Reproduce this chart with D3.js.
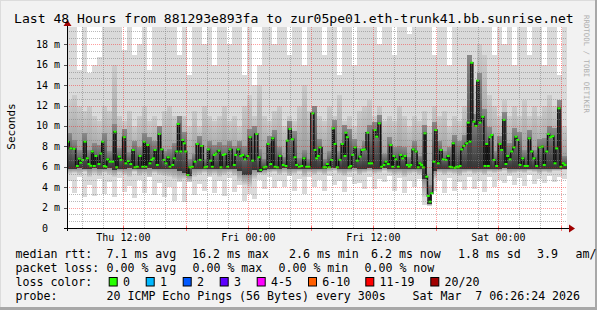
<!DOCTYPE html>
<html><head><meta charset="utf-8">
<script src="https://cdn.jsdelivr.net/npm/d3@7"></script>
<style>
body{margin:0;background:#f2f2f2;}
svg text{font-family:"DejaVu Sans Mono",monospace;white-space:pre;}
</style>
</head><body>
<svg id="chart" width="597" height="310"></svg>
<script>
// ---------- DATA ----------
const titleText = "Last 48 Hours from 881293e893fa to zur05pe01.eth-trunk41.bb.sunrise.net";
const yTickValues = [0,2,4,6,8,10,12,14,16,18];
const xLabelFormat = "%a %H:%M";
// median rtt samples: hours since window start, value in ms
const medianHours = [0.07,0.36,0.67,0.99,1.18,1.32,1.51,1.73,1.95,2.11,2.28,2.43,2.62,2.78,3.07,3.24,3.43,3.58,3.74,3.91,4.13,4.39,4.61,4.77,5.02,5.18,5.50,5.66,5.88,6.12,6.36,6.53,6.75,7.01,7.27,7.42,7.58,7.75,7.97,8.13,8.28,8.45,8.67,8.86,9.09,9.31,9.50,9.72,9.89,10.15,10.30,10.53,10.68,10.92,11.11,11.26,11.40,
11.59,11.81,12.03,12.29,12.51,12.77,12.93,13.25,13.41,13.56,13.80,13.95,14.14,14.30,14.59,14.78,15.00,15.17,15.43,15.65,16.06,16.20,16.44,16.68,16.87,17.09,17.35,17.57,17.83,18.21,18.43,18.60,18.91,19.10,19.32,19.56,19.75,19.97,20.19,20.45,20.76,21.02,21.15,21.41,21.63,21.89,22.05,22.30,22.53,22.75,23.01,23.23,23.59,23.81,23.97,24.12,24.29,24.67,24.84,24.99,25.18,25.41,25.56,25.73,25.95,26.21,26.43,26.69,26.78,26.91,27.10,27.24,27.43,27.65,27.87,28.13,28.35,28.54,28.87,29.02,
29.25,29.57,29.73,29.98,30.21,30.43,30.62,30.84,31.08,31.27,31.39,31.58,31.80,32.04,32.23,32.45,32.67,32.86,33.00,33.24,33.50,33.72,33.89,34.05,34.20,34.37,34.53,34.68,34.85,35.01,35.23,35.40,35.64,35.90,36.12,36.38,36.60,36.77,36.93,37.08,37.25,37.41,37.56,37.73,37.89,38.11,38.37,38.52,38.69,38.85,39.07,39.26,39.43,39.65,39.91,40.13,40.29,40.44,40.61,40.77,40.99,41.25,41.57,41.73,41.95,42.14,42.31,42.53,42.69,42.91,43.10,43.27,43.49,43.75,43.97,44.19,44.38,44.61,44.83,45.09,45.41,45.63,45.82,46.05,46.21,46.44,46.63,46.85,47.01,47.23,47.42,47.64,47.81];
const medianMs = [8.46,7.8,7.75,6.08,6.8,6.4,6.67,8.46,6.83,6.27,6.1,7.5,6.08,7.06,6.27,7.3,8.46,6.08,6.0,6.73,6.5,6.5,9.44,5.95,7.0,6.67,8.9,6.34,6.57,6.27,7.65,5.95,6.0,7.06,6.0,8.46,6.0,8.14,6.34,6.67,6.83,7.65,6.18,9.22,7.7,6.67,6.34,6.93,6.0,6.18,6.83,7.5,10.2,7.5,8.63,8.3,7.5,
5.2,5.95,6.0,6.5,8.24,6.67,8.04,5.95,6.0,7.7,6.6,6.0,7.16,7.3,7.58,5.95,7.16,7.25,6.0,7.7,6.18,7.16,7.7,7.06,7.16,6.73,7.06,8.9,6.6,9.22,6.93,5.69,5.95,6.0,8.24,6.27,8.79,6.0,5.95,7.06,6.18,6.08,8.56,9.7,8.7,6.93,6.18,6.0,6.08,6.83,6.0,6.0,11.24,7.65,6.83,7.06,7.9,5.95,5.95,6.27,5.95,6.67,9.77,8.24,5.95,6.67,8.24,7.06,9.34,8.9,5.95,6.08,7.16,7.9,6.6,7.0,7.65,7.7,9.34,6.34,
6.34,9.6,8.95,10.26,6.0,6.18,6.5,6.27,8.14,6.0,7.06,6.73,6.0,7.16,6.83,7.06,6.18,6.0,6.18,7.7,7.5,5.95,6.34,6.18,5.95,9.28,5.03,3.14,2.58,3.4,6.5,9.6,6.34,7.65,6.73,6.67,7.06,6.0,5.95,8.3,5.9,6.0,5.95,6.08,7.7,8.04,8.3,10.33,8.46,16.2,10.42,10.0,14.44,10.33,10.9,6.08,8.24,6.08,8.9,9.12,6.67,6.08,8.24,7.65,10.6,6.27,7.06,6.73,7.5,7.9,8.95,8.63,6.18,6.83,6.08,6.08,8.79,7.5,6.83,6.08,7.9,7.98,6.18,7.5,9.22,8.9,9.0,6.34,7.8,11.73,6.0,6.34,6.18];
// smoke (ping distribution) per consolidated step of 28.8 minutes
const smokeStepMinutes = 28.8;
const smokeMax = [20,20,15.5,20,15.2,16,16.8,20,20,20, 20,17.4,20,17,18,20,15.5,20,20,20, 20,20,17,20,15,20,20,18,20,16, 20,20,18,20,20,15,20,14,16,20, 20,18,20,20,17,20,20,16,20,20, 20,17,20,20,15,20,20,16,20,20, 20,20,18,20,20,17,20,20,19,20, 20,20,20,17,20,20,16,20,20,20, 20,20,20,20,20,17,20,18,20,16, 20,20,17,20,20,16,20,20,15,20];
const smokeHigh = [12.5,13,12,11.5,12,11,10.5,12,11.5,16, 11,10.5,11.5,10,11,12,10.5,11,10,11.5, 12,11,10.5,11,10,11.5,10,12,11,10.5, 11,12,10.5,11,10,12,13,11,14,11, 10.5,11.5,12,10,11,10.5,12,14,11.5,10, 11,10.5,12,11,13,10.5,11,10,11.5,12, 12.5,11,12,10.5,11,10.5,12,11,10,11, 10.5,11.5,10,12,11,11.5,10,11,10.5,12, 12,14,18,17,13,12,11,12.5,11,12, 11,12.5,11,12,11,12,13,12,11,10];
const smokeDark = [9.3,8.6,7.6,9.3,7.6,8.3,8.1,9.3,7.5,10.2, 7.8,9.7,7.4,8.5,7.9,9.3,8.9,8.5,10,7.5, 7.7,8.3,11,9.4,6.8,7.3,9,6.8,8.5,8.1, 8.4,8.1,8.5,8,8.5,8,9.7,10,7.7,6.8, 9,9.6,7.9,7,10.5,9.5,6.9,7.6,6.8,12, 8.7,6.8,7.5,10.6,7.5,10.1,9.7,8.7,7.8,8.5, 10.1,10.4,11.1,7.3,8.9,7.9,8,7.9,7,8.5, 7.1,10.1,4.2,10.4,8.5,7.5,7.9,9.1,8.5,9.1, 17,11.2,15.2,11.7,9.9,7.5,9,11.4,8.3,9.8, 9.4,7.6,9.6,7.6,8.7,8.8,10,9.8,12.5,7.1];
const smokeBase = [5.8,5.8,5.9,5.8,5.8,5.9,5.8,5.8,5.9,5.7, 5.8,5.8,5.9,5.8,5.8,5.8,5.9,5.8,5.8,5.8, 5.8,5.8,5.6,5.4,5.1,5.8,5.8,5.8,5.8,5.8, 5.8,5.8,5.8,5.8,5.6,5.2,5.2,5.7,5.5,5.7, 5.8,5.8,5.8,5.9,5.8,5.8,5.8,5.8,5.8,5.8, 5.8,5.8,5.9,5.9,5.8,5.8,5.8,5.9,5.8,5.8, 5.9,5.8,5.8,5.9,5.8,5.8,5.8,5.8,5.8,5.8, 5.8,4.8,2.4,5.6,5.8,5.8,5.8,5.8,5.8,5.8, 5.8,5.8,5.8,5.8,5.8,5.8,5.8,5.9,5.8,5.8, 5.8,5.8,5.8,5.8,5.8,5.8,5.8,5.8,5.8,5.8];
const smokeLow = [5.3,5.4,5.2,5.5,5.0,5.3,5.1,5.4,5.2,5.0, 5.4,5.2,5.0,5.5,5.1,5.3,5.0,5.4,5.2,5.1, 5.0,4.8,4.6,4.8,4.5,5.0,5.2,5.4,5.1,5.3, 5.0,5.2,5.4,5.1,4.6,4.2,4.0,4.8,5.3,5.2, 5.4,5.5,5.2,5.4,5.1,5.3,5.5,5.0,5.4,5.2, 5.4,5.2,5.5,5.6,5.3,5.1,5.4,5.5,5.2,5.4, 5.5,5.3,5.4,5.6,5.4,5.2,5.3,5.0,5.3,5.4, 5.2,3.0,2.2,4.8,5.4,5.2,5.4,5.3,5.1,5.4, 5.5,5.3,5.4,5.2,5.5,5.4,5.5,5.6,5.3,5.4, 5.5,5.4,5.6,5.5,5.3,5.5,5.4,5.6,5.6,5.7];
const smokeMin = [4.6,3.4,5.0,3.0,4.2,3.1,4.8,3.3,4.5,3.0, 4.9,3.5,4.1,2.9,4.7,3.4,5.0,3.2,4.4,3.0, 4.0,2.6,4.5,2.5,4.8,3.2,4.3,3.6,5.0,3.4, 4.6,3.1,4.9,3.5,4.2,2.6,3.3,2.8,4.7,3.8, 5.0,3.9,4.6,4.0,5.1,3.6,4.8,3.3,5.0,4.0, 4.7,3.6,5.1,4.2,4.6,3.5,5.0,4.3,4.4,3.8, 5.0,3.8,4.8,4.5,5.1,3.6,4.9,3.4,4.6,4.0, 4.8,2.3,2.2,3.6,4.7,3.4,4.9,3.6,4.5,3.7, 5.0,3.8,4.6,3.5,5.0,4.0,4.7,4.4,5.1,4.2, 4.9,4.1,5.2,4.3,4.8,4.4,5.1,4.5,5.0,4.8];
// legend
const medianStatValues = [7.1,16.2,2.6,6.2,1.8];
const medianStatNames = ["avg","max","min","now","sd"];
const lossStatValues = [0,0,0,0];
const lossStatNames = ["avg","max","min","now"];
const amasValue = 3.9;
const lossLabels = ["0","1","2","3","4-5","6-10","11-19","20/20"];
const lossColors = ["#26ff00","#00b8ff","#0059ff","#5e00ff","#ff00ff","#ff5e00","#ff0000","#a10000"];
const probeText = "20 ICMP Echo Pings (56 Bytes) every 300s";
const stampText = "Sat Mar  7 06:26:24 2026";

// ---------- DRAW ----------
const svg = d3.select("#chart");
const W = 597, H = 310;
const pL = 67, pR = 567, pT = 27, pB = 228;
const start = new Date(2026, 2, 5, 6, 35, 0);
const end = new Date(+start + 48 * 3600e3);
const x = d3.scaleTime().domain([start, end]).range([pL, pR]);
const y = d3.scaleLinear().domain([0, 19.7]).range([pB, pT]);
const hr = h => new Date(+start + h * 3600e3);

svg.append("rect").attr("width", W).attr("height", H).attr("fill", "#f2f2f2");
svg.append("rect").attr("x",0).attr("y",0).attr("width",W).attr("height",1).attr("fill","#dcdcdc");
svg.append("rect").attr("x",0).attr("y",0).attr("width",1).attr("height",H).attr("fill","#dcdcdc");
svg.append("rect").attr("x",0).attr("y",H-3).attr("width",W).attr("height",3).attr("fill","#a8a8a8");
svg.append("rect").attr("x",W-2).attr("y",0).attr("width",2).attr("height",H).attr("fill","#a8a8a8");

const defs = svg.append("defs");
defs.append("clipPath").attr("id","plot")
  .append("rect").attr("x",pL).attr("y",pT).attr("width",pR-pL).attr("height",pB-pT);
function grad(id, topC, botC){
  const lg = defs.append("linearGradient").attr("id",id).attr("x1",0).attr("y1",0).attr("x2",0).attr("y2",1);
  lg.append("stop").attr("offset","0%").attr("stop-color",topC);
  lg.append("stop").attr("offset","100%").attr("stop-color",botC);
}
grad("gUp", "#cbcbcb", "#8e8e8e");
grad("gLow", "#8e8e8e", "#d2d2d2");
grad("gDark", "#8a8a8a", "#353535");
svg.append("rect").attr("x",pL).attr("y",pT).attr("width",pR-pL).attr("height",pB-pT).attr("fill","#ffffff");

const g = svg.append("g").attr("clip-path","url(#plot)");
const cols = smokeMax.map((m,i)=>{
  const t0 = new Date(+start + i*smokeStepMinutes*60e3);
  const t1 = new Date(+t0 + smokeStepMinutes*60e3);
  return {i, t0, t1};
});
function band(lo, hi, fill){
  g.append("g").selectAll("rect").data(cols).join("rect")
    .attr("x", d=>x(d.t0)).attr("width", d=>x(d.t1)-x(d.t0))
    .attr("y", d=>y(hi[d.i])).attr("height", d=>Math.max(0.01, y(lo[d.i]) - y(hi[d.i])))
    .attr("fill", fill).attr("shape-rendering","crispEdges");
}
band(smokeMin, smokeMax, "#dadada");
band(smokeBase, smokeHigh, "url(#gUp)");
band(smokeLow, smokeBase, "url(#gLow)");
band(smokeBase, smokeDark, "url(#gDark)");

const med = medianHours.map((h,i)=>({t:hr(h), v:medianMs[i]}));
g.append("path").datum(med)
  .attr("d", d3.line().x(d=>x(d.t)).y(d=>y(d.v)).curve(d3.curveStep))
  .attr("fill","none").attr("stroke","#111").attr("stroke-width",1.5);
g.append("g").selectAll("rect").data(med).join("rect")
  .attr("x", d=>x(d.t)-1.5).attr("y", d=>y(d.v)-1).attr("width",3).attr("height",2)
  .attr("fill", lossColors[0]);

// grid
const grid = svg.append("g").attr("shape-rendering","crispEdges");
const minorY = d3.range(0, 19.7, 2/3).filter(v=>Math.abs(v/2 - Math.round(v/2))>0.01);
grid.selectAll(".mh").data(minorY).join("line")
  .attr("x1",pL).attr("x2",pR).attr("y1",d=>Math.round(y(d))+0.5).attr("y2",d=>Math.round(y(d))+0.5)
  .attr("stroke","rgba(128,128,128,0.55)").attr("stroke-dasharray","1,1");
const minorX = d3.timeHour.every(2).range(start, end).filter(t=>t.getHours()%6!==0);
grid.selectAll(".mv").data(minorX).join("line")
  .attr("x1",d=>Math.round(x(d))+0.5).attr("x2",d=>Math.round(x(d))+0.5).attr("y1",pT).attr("y2",pB)
  .attr("stroke","rgba(128,128,128,0.55)").attr("stroke-dasharray","1,1");
grid.selectAll(".Mh").data(yTickValues.filter(v=>v>0)).join("line")
  .attr("x1",pL).attr("x2",pR).attr("y1",d=>Math.round(y(d))+0.5).attr("y2",d=>Math.round(y(d))+0.5)
  .attr("stroke","rgba(255,0,0,0.38)").attr("stroke-dasharray","1,1");
const majorX = d3.timeHour.every(6).range(start, end);
grid.selectAll(".Mv").data(majorX).join("line")
  .attr("x1",d=>Math.round(x(d))+0.5).attr("x2",d=>Math.round(x(d))+0.5).attr("y1",pT).attr("y2",pB)
  .attr("stroke","rgba(255,0,0,0.38)").attr("stroke-dasharray","1,1");
grid.selectAll(".tk").data(majorX).join("line")
  .attr("x1",d=>Math.round(x(d))+0.5).attr("x2",d=>Math.round(x(d))+0.5).attr("y1",pB-2).attr("y2",pB+3)
  .attr("stroke","rgba(255,0,0,0.5)");
grid.selectAll(".ytk").data(yTickValues).join("line")
  .attr("x1",pL-3).attr("x2",pL).attr("y1",d=>Math.round(y(d))+0.5).attr("y2",d=>Math.round(y(d))+0.5)
  .attr("stroke","#555");

// axes
svg.append("line").attr("x1",pL-3).attr("x2",570).attr("y1",pB+0.5).attr("y2",pB+0.5)
  .attr("stroke","#000").attr("shape-rendering","crispEdges");
svg.append("line").attr("x1",pL+0.5).attr("x2",pL+0.5).attr("y1",pB+3).attr("y2",24)
  .attr("stroke","#000").attr("shape-rendering","crispEdges");
svg.append("path").attr("d",`M569,${pB-3.5}L575,${pB+0.5}L569,${pB+4.5}Z`).attr("fill","#a00000");
svg.append("path").attr("d",`M${pL-3.5},26L${pL+0.5},20L${pL+4.5},26Z`).attr("fill","#a00000");

// y labels
svg.append("g").selectAll("text").data(yTickValues).join("text")
  .attr("x", d=> d===0 ? 48 : 60).attr("y", d=>y(d)+3.5).attr("text-anchor","end")
  .attr("font-size",10).attr("fill","#000")
  .text(d=> d===0 ? "0" : d + " m");
// x labels
const labelTicks = d3.timeHour.every(12).range(start, end);
svg.append("g").selectAll("text").data(labelTicks).join("text")
  .attr("x", d=>x(d)).attr("y", 241).attr("text-anchor","middle")
  .attr("font-size",10).attr("fill","#000")
  .text(d=>d3.timeFormat(xLabelFormat)(d));

svg.append("text").attr("transform","translate(14.5,126.5) rotate(-90)").attr("text-anchor","middle")
  .attr("font-size",11).attr("fill","#000").text("Seconds");
svg.append("text").attr("x",14).attr("y",23).attr("font-size",13.1).attr("fill","#000").text(titleText);
svg.append("text").attr("transform","translate(584,15) rotate(90)").attr("font-size",7.4)
  .attr("fill","#b0b0b0").text("RRDTOOL / TOBI OETIKER");

// legend
const fs = 11.6;
const L = svg.append("g").attr("font-size",fs).attr("fill","#000");
const row = [258, 272, 286, 300];
L.append("text").attr("x",15.5).attr("y",row[0]).text("median rtt:");
const medX = [106.5, 192, 289, 371, 458];
medianStatValues.forEach((v,i)=>{
  L.append("text").attr("x",medX[i]).attr("y",row[0]).text(v.toFixed(1)+" ms "+medianStatNames[i]);
});
L.append("text").attr("x",537).attr("y",row[0]).text(amasValue.toFixed(1));
L.append("text").attr("x",575.5).attr("y",row[0]).text("am/");
L.append("text").attr("x",15.5).attr("y",row[1]).text("packet loss:");
const lossX = [106.5, 192.5, 278.5, 364.5];
lossStatValues.forEach((v,i)=>{
  L.append("text").attr("x",lossX[i]).attr("y",row[1]).text(v.toFixed(2)+" % "+lossStatNames[i]);
});
L.append("text").attr("x",15.5).attr("y",row[2]).text("loss color:");
const boxX = [108.7,145.7,182.7,219.7,256.7,308,365.3,430.3];
lossLabels.forEach((lab,i)=>{
  L.append("rect").attr("x",boxX[i]+0.5).attr("y",277.5).attr("width",8).attr("height",8.5)
    .attr("fill",lossColors[i]).attr("stroke","#000").attr("stroke-width",1);
  L.append("text").attr("x",boxX[i]+14.3).attr("y",row[2]).text(lab);
});
L.append("text").attr("x",15.5).attr("y",row[3]).text("probe:");
L.append("text").attr("x",106.5).attr("y",row[3]).text(probeText);
L.append("text").attr("x",412.5).attr("y",row[3]).text(stampText);
</script>
</body></html>
